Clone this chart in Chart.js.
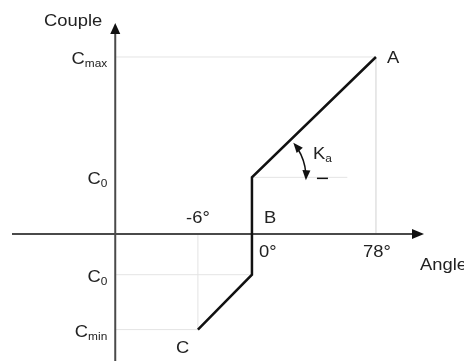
<!DOCTYPE html>
<html>
<head>
<meta charset="utf-8">
<script src="https://cdn.jsdelivr.net/npm/chart.js@4/dist/chart.umd.min.js"></script>
<style>
  html, body { margin: 0; padding: 0; background: #fff; overflow: hidden; }
</style>
</head>
<body>
<canvas id="chart" width="464" height="361"></canvas>
<script>
// the sketch is not to scale: angles and couples are in schematic units
const curveAngles = [-34, 0, 0, 78];
const curveCouples = [-54, -23, 32, 100];

const pointLabels = ['A', 'B', 'C'];
const pointAngles = [78, 0, -34];
const pointCouples = [100, 0, -54];

const angleTicks = [-34, 0, 78];
const angleTickLabels = ['-6°', '0°', '78°'];

const coupleTicks = [100, 32, -23, -54];
const coupleTickLabels = [['C', 'max'], ['C', '0'], ['C', '0'], ['C', 'min']];

const coupleAxisAt = -86;   // where the Couple axis crosses the Angle axis
const kaRefEnd = 60;        // end of the C0 reference line used for Ka

const FONT = '"Liberation Sans", Arial, sans-serif';
const TEXT = '#222';
const AXIS = '#4a4a4a';
const GUIDE = '#e4e4e4';
const STRETCH = 1.08;

function pt(x, y) { return { x: x, y: y }; }

const curveData = curveAngles.map((a, i) => pt(a, curveCouples[i]));

// light guide lines drawn from the tick values
const guides = [
  [pt(coupleAxisAt, coupleTicks[0]), pt(angleTicks[2], coupleTicks[0]), pt(angleTicks[2], 0)],
  [pt(0, coupleTicks[1]), pt(kaRefEnd, coupleTicks[1])],
  [pt(coupleAxisAt, coupleTicks[2]), pt(0, coupleTicks[2])],
  [pt(coupleAxisAt, coupleTicks[3]), pt(angleTicks[0], coupleTicks[3]), pt(angleTicks[0], 0)]
];

function arrowHead(ctx, tx, ty, dx, dy, len, half) {
  const n = Math.hypot(dx, dy);
  dx /= n; dy /= n;
  ctx.beginPath();
  ctx.moveTo(tx, ty);
  ctx.lineTo(tx - dx * len - dy * half, ty - dy * len + dx * half);
  ctx.lineTo(tx - dx * len + dy * half, ty - dy * len - dx * half);
  ctx.closePath();
  ctx.fill();
}

function textWidth(ctx, str, size) {
  ctx.font = size + 'px ' + FONT;
  return ctx.measureText(str).width * STRETCH;
}

// draws text slightly widened, like the scanned original
function text(ctx, str, x, y, align, size) {
  const w = textWidth(ctx, str, size);
  let left = x;
  if (align === 'right') left = x - w;
  else if (align === 'center') left = x - w / 2;
  ctx.save();
  ctx.translate(left, y);
  ctx.scale(STRETCH, 1);
  ctx.textAlign = 'left';
  ctx.fillText(str, 0, 0);
  ctx.restore();
}

function subText(ctx, main, sub, x, y, align) {
  const w1 = textWidth(ctx, main, 17);
  const w2 = textWidth(ctx, sub, 11);
  const left = align === 'right' ? x - w1 - w2 : x;
  ctx.font = '17px ' + FONT;
  text(ctx, main, left, y, 'left', 17);
  ctx.font = '11px ' + FONT;
  text(ctx, sub, left + w1, y + 3, 'left', 11);
}

const axesPlugin = {
  id: 'axesPlugin',
  beforeDatasetDraw(chart, args) {
    if (args.index !== 0) return;
    const ctx = chart.ctx;
    const xs = chart.scales.x, ys = chart.scales.y;
    const x0 = xs.getPixelForValue(coupleAxisAt);
    const y0 = ys.getPixelForValue(0);
    ctx.save();
    ctx.strokeStyle = AXIS;
    ctx.fillStyle = '#111';
    ctx.lineWidth = 2;
    // Angle axis
    ctx.beginPath();
    ctx.moveTo(12, y0);
    ctx.lineTo(414, y0);
    ctx.stroke();
    arrowHead(ctx, 424, y0, 1, 0, 12, 5);
    // Couple axis
    ctx.beginPath();
    ctx.moveTo(x0, chart.height);
    ctx.lineTo(x0, 33);
    ctx.stroke();
    arrowHead(ctx, x0, 23, 0, -1, 11, 5);
    ctx.restore();
  },
  afterDatasetsDraw(chart) {
    const ctx = chart.ctx;
    const xs = chart.scales.x, ys = chart.scales.y;
    const x0 = xs.getPixelForValue(coupleAxisAt);
    const y0 = ys.getPixelForValue(0);
    ctx.save();
    ctx.fillStyle = TEXT;
    ctx.textBaseline = 'alphabetic';
    ctx.font = '17px ' + FONT;

    // axis titles
    text(ctx, 'Couple', x0 - 13, 26, 'right', 17);
    ctx.font = '17px ' + FONT;
    text(ctx, 'Angle', 420, y0 + 36, 'left', 17);

    // couple ticks
    coupleTicks.forEach((v, i) => {
      const lbl = coupleTickLabels[i];
      subText(ctx, lbl[0], lbl[1], x0 - 8, ys.getPixelForValue(v) + 7, 'right');
    });

    // angle ticks
    ctx.font = '17px ' + FONT;
    angleTicks.forEach((v, i) => {
      const px = xs.getPixelForValue(v);
      if (v < 0) text(ctx, angleTickLabels[i], px, y0 - 11, 'center', 17);
      else if (v === 0) text(ctx, angleTickLabels[i], px + 7, y0 + 23, 'left', 17);
      else text(ctx, angleTickLabels[i], px + 1, y0 + 23, 'center', 17);
      ctx.font = '17px ' + FONT;
    });

    // point names
    pointLabels.forEach((name, i) => {
      const px = xs.getPixelForValue(pointAngles[i]);
      const py = ys.getPixelForValue(pointCouples[i]);
      ctx.font = '17px ' + FONT;
      if (name === 'A') text(ctx, name, px + 11, py + 6, 'left', 17);
      else if (name === 'B') text(ctx, name, px + 12, py - 11, 'left', 17);
      else text(ctx, name, px - 22, py + 23, 'left', 17);
    });

    // Ka: arc between the slope and the C0 reference
    const cx = xs.getPixelForValue(0);
    const cy = ys.getPixelForValue(curveCouples[2]);
    const r = 54;
    const a1 = -40 * Math.PI / 180, a2 = 3 * Math.PI / 180;
    ctx.strokeStyle = '#111';
    ctx.fillStyle = '#111';
    ctx.lineWidth = 1.5;
    ctx.beginPath();
    ctx.arc(cx, cy, r, a1 + 0.14, a2 - 0.14);
    ctx.stroke();
    arrowHead(ctx, cx + r * Math.cos(a1), cy + r * Math.sin(a1), Math.sin(a1), -Math.cos(a1), 10, 4);
    arrowHead(ctx, cx + r * Math.cos(a2), cy + r * Math.sin(a2), -Math.sin(a2), Math.cos(a2), 10, 4);
    ctx.lineWidth = 1.5;
    ctx.beginPath();
    ctx.moveTo(cx + 65, cy + 1);
    ctx.lineTo(cx + 76, cy + 1);
    ctx.stroke();
    ctx.fillStyle = TEXT;
    subText(ctx, 'K', 'a', cx + 61, cy - 18, 'left');
    ctx.restore();
  }
};

const datasets = [{
  data: curveData,
  borderColor: '#111',
  borderWidth: 2.5,
  borderJoinStyle: 'miter',
  pointRadius: 0,
  tension: 0
}];
guides.forEach(g => datasets.push({
  data: g,
  borderColor: GUIDE,
  borderWidth: 1,
  pointRadius: 0,
  tension: 0
}));

new Chart(document.getElementById('chart').getContext('2d'), {
  type: 'line',
  data: { datasets: datasets },
  options: {
    responsive: false,
    animation: false,
    devicePixelRatio: 1,
    layout: { padding: 0 },
    plugins: { legend: { display: false }, tooltip: { enabled: false } },
    scales: {
      x: { type: 'linear', min: -158.5, max: 133.4, display: false },
      y: { type: 'linear', min: -71.75, max: 132.2, display: false }
    }
  },
  plugins: [axesPlugin]
});
</script>
</body>
</html>
